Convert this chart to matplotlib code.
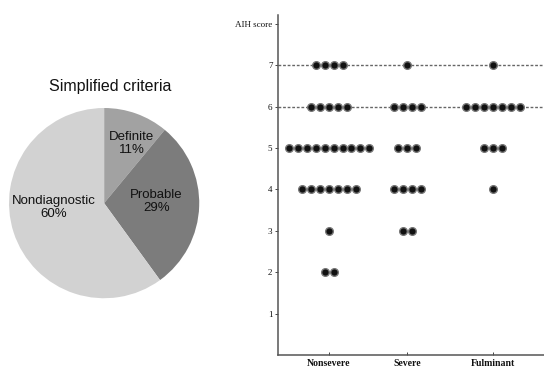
import matplotlib
matplotlib.use("Agg")
import matplotlib.pyplot as plt
import numpy as np

# ---- data ----
pie_labels = ["Definite", "Probable", "Nondiagnostic"]
pie_values = [11, 29, 60]
pie_colors = ["#a2a2a2", "#7c7c7c", "#d2d2d2"]

categories = ["Nonsevere", "Severe", "Fulminant"]
scores = [7, 6, 5, 4, 3, 2]
nonsevere_counts = [4, 5, 10, 7, 1, 2]
severe_counts = [1, 4, 3, 4, 2, 0]
fulminant_counts = [1, 7, 3, 1, 0, 0]
ref_lines = [7, 6]
ytick_values = [1, 2, 3, 4, 5, 6, 7, 8]
ytick_labels = ["1", "2", "3", "4", "5", "6", "7", "AIH score"]

fig = plt.figure(figsize=(5.44, 3.71), dpi=100)

# ---- pie ----
axp = fig.add_axes([0.0129, 0.191, 0.357, 0.523])
wedges, _ = axp.pie(pie_values, colors=pie_colors, startangle=90, counterclock=False,
                    wedgeprops=dict(edgecolor="none"))
axp.set_xlim(-1.02, 1.02)
axp.set_ylim(-1.02, 1.02)
axp.set_aspect("equal")
axp.axis("off")
label_pos = [(0.29, 0.63), (0.55, 0.02), (-0.53, -0.05)]
for (lx, ly), name, v in zip(label_pos, pie_labels, pie_values):
    axp.text(lx, ly, f"{name}\n{v}%", ha="center", va="center", fontsize=9.5,
             family="Liberation Sans", color="#111111", linespacing=1.1)
fig.text(110 / 544, 1 - 87 / 371, "Simplified criteria", ha="center", va="center",
         fontsize=11.5, family="Liberation Sans", color="#111111")

# ---- dot plot ----
ax = fig.add_axes([278 / 544, 16 / 371, 1 - 278 / 544, (355 - 15) / 371])
cat_pos = [0, 1, 2.1]
spacing = 0.115
ax.set_xlim(-0.654, 2.754)
ax.set_ylim(0, 8.21)

for yv in ref_lines:
    ax.axhline(yv, color="#666666", lw=1.0, ls=(0, (2, 1.3)), zorder=1)

all_counts = [nonsevere_counts, severe_counts, fulminant_counts]
for cx, counts in zip(cat_pos, all_counts):
    for s, n in zip(scores, counts):
        if n == 0:
            continue
        xs = cx + (np.arange(n) - (n - 1) / 2) * spacing
        ax.plot(xs, [s] * n, "o", ms=5.5, color="#111111", mec="#777777", mew=1.0,
                ls="none", zorder=3)

ax.spines["right"].set_visible(False)
ax.spines["top"].set_visible(False)
for sp in ["left", "bottom"]:
    ax.spines[sp].set_color("#555555")
    ax.spines[sp].set_linewidth(1.1)

ax.set_yticks(ytick_values)
ax.set_yticklabels(ytick_labels, family="Liberation Serif", fontsize=6.5)
ax.tick_params(axis="y", direction="out", length=2.5, width=0.7, colors="#444444",
               labelcolor="#111111", pad=1.5)
ax.set_xticks(cat_pos)
ax.set_xticklabels(categories, family="Liberation Serif", fontsize=7, fontweight="bold")
ax.tick_params(axis="x", direction="in", length=2, width=0.7, colors="#444444",
               labelcolor="#111111", pad=3)

fig.savefig("out.png", dpi=100)
